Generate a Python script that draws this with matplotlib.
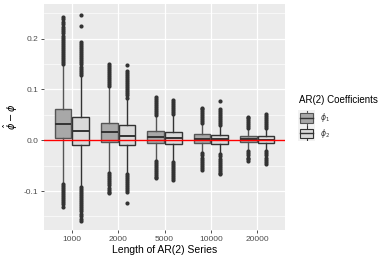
import matplotlib
matplotlib.use("Agg")
import matplotlib.pyplot as plt
from matplotlib.patches import Rectangle

plt.rcParams['font.family'] = ['Liberation Sans', 'DejaVu Sans']
plt.rcParams['mathtext.fontset'] = 'dejavusans'

# series lengths (categories)
lengths = ['1000', '2000', '5000', '10000', '20000']
coef_labels = ['$\\phi_1$', '$\\phi_2$']

# box statistics, phi1
q1_phi1 = [0.004, -0.004, -0.006, -0.006, -0.004]
med_phi1 = [0.0315, 0.0157, 0.007, 0.003, 0.002]
q3_phi1 = [0.061, 0.0347, 0.019, 0.012, 0.008]
lo_phi1 = [-0.083, -0.062, -0.038, -0.024, -0.020]
hi_phi1 = [0.148, 0.104, 0.048, 0.031, 0.022]

# box statistics, phi2
q1_phi2 = [-0.009, -0.010, -0.008, -0.007, -0.005]
med_phi2 = [0.019, 0.009, 0.0045, 0.002, 0.001]
q3_phi2 = [0.046, 0.029, 0.016, 0.011, 0.008]
lo_phi2 = [-0.089, -0.064, -0.041, -0.026, -0.020]
hi_phi2 = [0.127, 0.081, 0.050, 0.028, 0.022]

# outliers (estimated), one list per series length
out_phi1 = [
    [0.150, 0.154, 0.158, 0.162, 0.166, 0.170, 0.174, 0.178, 0.182, 0.186, 0.190, 0.194,
     0.198, 0.202, 0.206, 0.210, 0.214, 0.218, 0.223, 0.228, 0.233, 0.238, 0.243,
     -0.086, -0.090, -0.094, -0.098, -0.102, -0.106, -0.110, -0.114, -0.118, -0.122,
     -0.126, -0.131],
    [0.106, 0.110, 0.114, 0.118, 0.122, 0.126, 0.130, 0.134, 0.138, 0.142, 0.146, 0.150,
     -0.065, -0.069, -0.073, -0.077, -0.081, -0.085, -0.089, -0.093, -0.097, -0.101, -0.104],
    [0.050, 0.054, 0.058, 0.062, 0.066, 0.070, 0.074, 0.078, 0.082, 0.085,
     -0.040, -0.044, -0.048, -0.052, -0.056, -0.060, -0.064, -0.068, -0.072, -0.075],
    [0.033, 0.037, 0.041, 0.045, 0.049, 0.053, 0.057, 0.061, 0.064,
     -0.026, -0.030, -0.034, -0.038, -0.042, -0.046, -0.050, -0.054, -0.058],
    [0.024, 0.028, 0.032, 0.036, 0.040, 0.043, 0.046,
     -0.022, -0.026, -0.030, -0.034, -0.037, -0.040],
]
out_phi2 = [
    [0.129, 0.133, 0.137, 0.141, 0.145, 0.149, 0.153, 0.157, 0.161, 0.165, 0.169, 0.173,
     0.177, 0.181, 0.185, 0.189, 0.193, 0.225, 0.246,
     -0.092, -0.096, -0.100, -0.104, -0.108, -0.112, -0.116, -0.120, -0.124, -0.128,
     -0.132, -0.136, -0.140, -0.145, -0.150, -0.155, -0.159],
    [0.084, 0.088, 0.092, 0.096, 0.100, 0.104, 0.108, 0.112, 0.116, 0.120, 0.124, 0.128,
     0.132, 0.137, 0.148,
     -0.066, -0.070, -0.074, -0.078, -0.082, -0.086, -0.090, -0.094, -0.098, -0.102, -0.124],
    [0.052, 0.056, 0.060, 0.064, 0.068, 0.072, 0.076, 0.080,
     -0.043, -0.047, -0.051, -0.055, -0.059, -0.063, -0.067, -0.071, -0.075, -0.079],
    [0.030, 0.034, 0.038, 0.042, 0.046, 0.050, 0.054, 0.058, 0.061, 0.077,
     -0.028, -0.032, -0.036, -0.040, -0.044, -0.048, -0.052, -0.056, -0.060, -0.064, -0.067],
    [0.024, 0.028, 0.032, 0.036, 0.040, 0.044, 0.048, 0.052,
     -0.022, -0.026, -0.030, -0.034, -0.038, -0.042, -0.046],
]

fills = ['#A8A8A8', '#DADADA']
edges = ['#555555', '#333333']


def make_stats(q1, med, q3, lo, hi, outs):
    stats = []
    for i in range(len(q1)):
        stats.append(dict(q1=q1[i], med=med[i], q3=q3[i], whislo=lo[i], whishi=hi[i],
                          fliers=outs[i]))
    return stats


fig = plt.figure(figsize=(3.9, 2.6), dpi=100)
ax = fig.add_axes([44 / 390, 30 / 260, 241 / 390, 226 / 260])
ax.set_facecolor('#EBEBEB')
for s in ax.spines.values():
    s.set_visible(False)

all_stats = [make_stats(q1_phi1, med_phi1, q3_phi1, lo_phi1, hi_phi1, out_phi1),
             make_stats(q1_phi2, med_phi2, q3_phi2, lo_phi2, hi_phi2, out_phi2)]
offsets = [-0.19, 0.19]
x = list(range(1, len(lengths) + 1))

for k in range(2):
    ec = edges[k]
    ax.bxp(all_stats[k], positions=[p + offsets[k] for p in x], widths=0.36,
           patch_artist=True, showcaps=False,
           boxprops=dict(facecolor=fills[k], edgecolor=ec, linewidth=1.0),
           medianprops=dict(color='#333333', linewidth=1.4),
           whiskerprops=dict(color=ec, linewidth=1.0),
           flierprops=dict(marker='o', markersize=3.0, markerfacecolor='#333333',
                           markeredgecolor='#333333', markeredgewidth=0),
           zorder=3)

ax.axhline(0, color='red', linewidth=1.0, zorder=4)

ax.set_xlim(0.4, 5.6)
ax.set_ylim(-0.1766, 0.268)
ax.set_xticks(x)
ax.set_xticklabels(lengths)
ax.set_yticks([-0.1, 0.0, 0.1, 0.2])
ax.set_yticklabels(['-0.1', '0.0', '0.1', '0.2'])
ax.set_yticks([-0.15, -0.05, 0.05, 0.15, 0.25], minor=True)
ax.grid(True, which='major', color='white', linewidth=0.9, zorder=0)
ax.grid(True, which='minor', axis='y', color='white', linewidth=0.45, zorder=0)
ax.set_axisbelow(True)
ax.tick_params(axis='both', which='major', length=2.5, width=0.6, color='#333333',
               labelsize=6, labelcolor='#4D4D4D', pad=1.5)
ax.tick_params(axis='both', which='minor', length=0)

ax.set_xlabel('Length of AR(2) Series', fontsize=7.5, labelpad=2)
ax.set_ylabel('$\\hat{\\phi} - \\phi$', fontsize=7, labelpad=3)

# legend
fig.text(299 / 390, 1 - 100 / 260, 'AR(2) Coefficients', fontsize=7, va='center', ha='left')
for k in range(2):
    yc = 1 - (118 + 15 * k) / 260
    kax = fig.add_axes([298 / 390, yc - 7.5 / 260, 17 / 390, 15 / 260])
    kax.set_xlim(0, 1)
    kax.set_ylim(0, 1)
    kax.axis('off')
    kax.add_patch(Rectangle((0, 0), 1, 1, facecolor='#F2F2F2', edgecolor='none'))
    kax.plot([0.5, 0.5], [0.02, 0.98], color=edges[k], linewidth=0.8)
    kax.add_patch(Rectangle((0.12, 0.2), 0.76, 0.6, facecolor=fills[k],
                            edgecolor=edges[k], linewidth=0.8, zorder=3))
    kax.plot([0.12, 0.88], [0.5, 0.5], color='#333333', linewidth=1.0, zorder=4)
    fig.text(320 / 390, yc, coef_labels[k], fontsize=5.5, va='center', ha='left',
             color='#333333')

fig.savefig('out.png', dpi=100)
